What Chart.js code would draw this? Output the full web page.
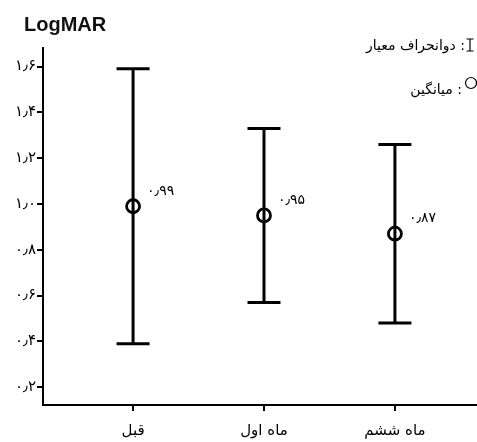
<!DOCTYPE html>
<html>
<head>
<meta charset="utf-8">
<script src="https://cdn.jsdelivr.net/npm/chart.js@4.4.0/dist/chart.umd.min.js"></script>
<style>
  html, body { margin: 0; padding: 0; background: #fff; }
  #wrap { width: 477px; height: 442px; }
</style>
</head>
<body>
<div id="wrap"><canvas id="logmarChart"></canvas></div>
<script>
// chart values
const categories = ['قبل', 'ماه اول', 'ماه ششم'];
const means = [0.99, 0.95, 0.87];
const sds = [0.60, 0.38, 0.39];
const meanLabels = ['۰٫۹۹', '۰٫۹۵', '۰٫۸۷'];
const yTickValues = [0.2, 0.4, 0.6, 0.8, 1.0, 1.2, 1.4, 1.6];
const yTickLabels = ['۰٫۲', '۰٫۴', '۰٫۶', '۰٫۸', '۱٫۰', '۱٫۲', '۱٫۴', '۱٫۶'];

const faFont = '"DejaVu Sans", sans-serif';

// error bars (mean +/- sd) drawn behind the mean circles
const errorBars = {
    id: 'errorBars',
    beforeDatasetsDraw(chart) {
        const ctx = chart.ctx;
        const xs = chart.scales.x, ys = chart.scales.y;
        ctx.save();
        ctx.strokeStyle = '#000';
        ctx.lineWidth = 3;
        for (let i = 0; i < means.length; i++) {
            const x = xs.getPixelForValue(i + 1);
            const top = ys.getPixelForValue(means[i] + sds[i]);
            const bot = ys.getPixelForValue(means[i] - sds[i]);
            ctx.beginPath();
            ctx.moveTo(x, top); ctx.lineTo(x, bot);
            ctx.moveTo(x - 16.5, top); ctx.lineTo(x + 16.5, top);
            ctx.moveTo(x - 16.5, bot); ctx.lineTo(x + 16.5, bot);
            ctx.stroke();
        }
        ctx.restore();
    },
    afterDatasetsDraw(chart) {
        const ctx = chart.ctx;
        const xs = chart.scales.x, ys = chart.scales.y;
        ctx.save();
        ctx.fillStyle = '#000';
        ctx.font = '14px ' + faFont;
        ctx.textAlign = 'left';
        ctx.textBaseline = 'middle';
        for (let i = 0; i < means.length; i++) {
            const x = xs.getPixelForValue(i + 1);
            const y = ys.getPixelForValue(means[i]);
            ctx.fillText(meanLabels[i], x + 14, y - 15);
        }
        ctx.restore();
    }
};

// title and the small key at top right
const extras = {
    id: 'extras',
    afterDraw(chart) {
        const ctx = chart.ctx;
        ctx.save();
        ctx.fillStyle = '#111';
        ctx.font = 'bold 20px "Liberation Sans", Arial, sans-serif';
        ctx.textBaseline = 'middle';
        ctx.textAlign = 'left';
        ctx.fillText('LogMAR', 24, 25);

        // key symbols
        ctx.strokeStyle = '#000';
        ctx.lineWidth = 1.2;
        ctx.beginPath();
        ctx.moveTo(470, 39); ctx.lineTo(470, 51);
        ctx.moveTo(466.5, 39); ctx.lineTo(473.5, 39);
        ctx.moveTo(466.5, 51); ctx.lineTo(473.5, 51);
        ctx.stroke();
        ctx.beginPath();
        ctx.arc(471, 83, 5.5, 0, Math.PI * 2);
        ctx.stroke();

        ctx.fillStyle = '#000';
        ctx.font = '14px ' + faFont;
        ctx.direction = 'rtl';
        ctx.textAlign = 'right';
        ctx.fillText(': دوانحراف معیار', 465, 46);
        ctx.fillText(': میانگین', 462, 90);
        ctx.restore();
    }
};

const ctx = document.getElementById('logmarChart').getContext('2d');
new Chart(ctx, {
    type: 'scatter',
    data: {
        datasets: [{
            label: 'میانگین',
            data: means.map((m, i) => ({ x: i + 1, y: m })),
            pointStyle: 'circle',
            pointRadius: 6.5,
            pointHoverRadius: 6.5,
            borderWidth: 2.8,
            borderColor: '#000',
            backgroundColor: 'rgba(0,0,0,0)'
        }]
    },
    options: {
        responsive: true,
        maintainAspectRatio: false,
        animation: false,
        layout: { autoPadding: false, padding: { top: 48, right: 0, left: 0, bottom: 0 } },
        plugins: {
            legend: { display: false },
            tooltip: { enabled: false }
        },
        scales: {
            x: {
                type: 'linear',
                min: 0.312,
                max: 3.627,
                afterBuildTicks: (scale) => { scale.ticks = categories.map((c, i) => ({ value: i + 1 })); },
                afterFit: (scale) => {
                    scale.height = 37;
                    scale.paddingLeft = 0;
                    scale.paddingRight = 0;
                },
                ticks: {
                    callback: (v) => categories[v - 1],
                    color: '#000',
                    font: { family: faFont, size: 15 },
                    padding: 11,
                    maxRotation: 0,
                    autoSkip: false
                },
                grid: { drawOnChartArea: false, drawTicks: true, tickLength: 6, lineWidth: 2, color: '#000' },
                border: { display: true, color: '#000', width: 2 }
            },
            y: {
                min: 0.122,
                max: 1.681,
                afterBuildTicks: (scale) => { scale.ticks = yTickValues.map(v => ({ value: v })); },
                afterFit: (scale) => {
                    scale.width = 43;
                    scale.paddingTop = 0;
                    scale.paddingBottom = 0;
                },
                ticks: {
                    callback: (v) => yTickLabels[yTickValues.findIndex(t => Math.abs(t - v) < 1e-6)],
                    color: '#000',
                    font: { family: faFont, size: 15 },
                    padding: 1
                },
                grid: { drawOnChartArea: false, drawTicks: true, tickLength: 6, lineWidth: 2, color: '#000' },
                border: { display: true, color: '#000', width: 2 }
            }
        }
    },
    plugins: [errorBars, extras]
});
</script>
</body>
</html>
